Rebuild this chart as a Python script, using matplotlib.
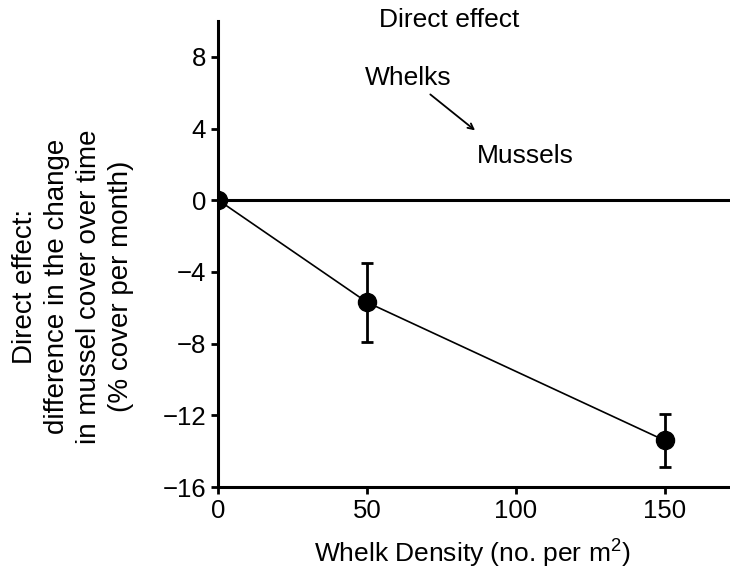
import matplotlib
matplotlib.use("Agg")
import matplotlib.pyplot as plt

# whelk density (no. per m2) and direct effect on mussel cover
density = [0, 50, 150]
effect = [0.0, -5.7, -13.4]
effect_err = [0.0, 2.2, 1.5]

x_ticks = [0, 50, 100, 150]
y_ticks = [8, 4, 0, -4, -8, -12, -16]

plt.rcParams['font.family'] = ['Liberation Sans', 'DejaVu Sans']
plt.rcParams['mathtext.fontset'] = 'custom'
plt.rcParams['mathtext.rm'] = 'Liberation Sans'
plt.rcParams['mathtext.default'] = 'regular'

fig = plt.figure(figsize=(7.3, 5.72), dpi=100)
ax = fig.add_axes([0.2993, 0.1486, 0.7007, 0.8147])

# zero reference line
ax.axhline(0, color='black', linewidth=2.2, zorder=1)

ax.errorbar(density, effect, yerr=effect_err,
            fmt='o-', color='black', markersize=13, linewidth=1.2,
            elinewidth=2, capsize=4, capthick=2, zorder=3)

ax.set_xlim(0, 172)
ax.set_ylim(-16, 10)
ax.set_xticks(x_ticks)
ax.set_yticks(y_ticks)

for side in ['top', 'right']:
    ax.spines[side].set_visible(False)
for side in ['left', 'bottom']:
    ax.spines[side].set_linewidth(2.2)
ax.tick_params(axis='both', labelsize=18.5, width=2, length=5, direction='out')
ax.tick_params(axis='y', pad=4)

ax.set_ylabel('Direct effect:\ndifference in the change\nin mussel cover over time\n(% cover per month)',
              fontsize=20, linespacing=1.3, va='center')
ax.yaxis.set_label_coords(-0.2845, 0.43)
ax.set_xlabel('Whelk Density (no. per m$^{2}$)', fontsize=19, va='baseline')
ax.xaxis.set_label_coords(0.4956, -0.163)

ax.text(54.0, 9.66, 'Direct effect', fontsize=19, ha='left', va='baseline', clip_on=False)
ax.text(49.3, 6.42, 'Whelks', fontsize=19, ha='left', va='baseline')
ax.text(87.0, 2.07, 'Mussels', fontsize=19, ha='left', va='baseline')
ax.annotate('', xy=(87, 3.8), xytext=(70.5, 6.0),
            arrowprops=dict(arrowstyle='->', color='black', lw=1.3))

plt.savefig('out.png', dpi=100)
